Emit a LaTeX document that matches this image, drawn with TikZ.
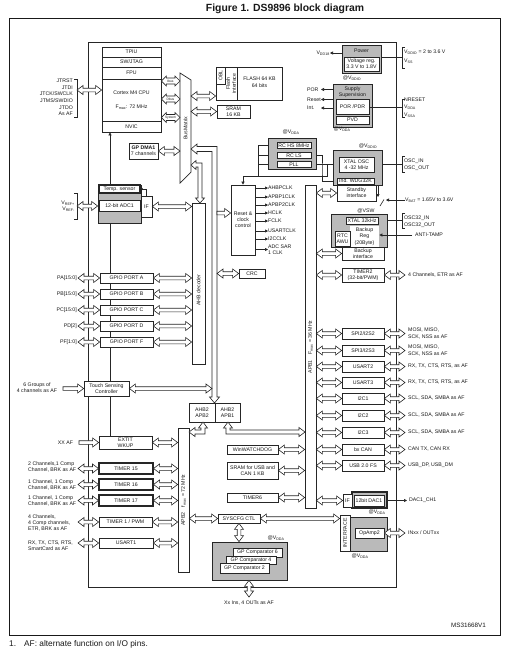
\documentclass[tikz,border=0pt]{standalone}
\usepackage{fontspec}
\setmainfont{Liberation Sans}
\usetikzlibrary{calc,arrows.meta}
\pgfdeclarelayer{back}\pgfdeclarelayer{bg}
\pgfsetlayers{back,bg,main}
\def\BSw{1.8pt}\def\BSh{4.5pt}\def\BSl{6pt}
% box by corners: [style]{name}{x1}{y1}{x2}{y2}{text}
\newcommand\bx[7][]{%
 \pgfmathsetmacro\bxcx{(#3+#5)/2}\pgfmathsetmacro\bxcy{(#4+#6)/2}%
 \pgfmathsetlengthmacro\bxw{(#5-#3)*1pt}\pgfmathsetlengthmacro\bxh{(#6-#4)*1pt}%
 \node[box,#1,minimum width=\bxw,minimum height=\bxh] (#2) at (\bxcx,\bxcy) {#7};}
% hollow double arrow, horizontal: from x of #1 to x of #2 at y of #3
\newcommand\hbus[3]{\draw[busa] let \p1=#1, \p2=#2, \p3=#3 in
 (\x1,\y3) -- ({\x1+\BSl},{\y3+\BSh}) -- ({\x1+\BSl},{\y3+\BSw}) -- ({\x2-\BSl},{\y3+\BSw})
 -- ({\x2-\BSl},{\y3+\BSh}) -- (\x2,\y3) -- ({\x2-\BSl},{\y3-\BSh}) -- ({\x2-\BSl},{\y3-\BSw})
 -- ({\x1+\BSl},{\y3-\BSw}) -- ({\x1+\BSl},{\y3-\BSh}) -- cycle;}
% single headed, head at #2
\newcommand\hbusr[3]{\draw[busa] let \p1=#1, \p2=#2, \p3=#3 in
 (\x1,{\y3+\BSw}) -- ({\x2-\BSl},{\y3+\BSw}) -- ({\x2-\BSl},{\y3+\BSh}) -- (\x2,\y3)
 -- ({\x2-\BSl},{\y3-\BSh}) -- ({\x2-\BSl},{\y3-\BSw}) -- (\x1,{\y3-\BSw}) -- cycle;}
% vertical double: from y of #1 (top) to y of #2 (bottom) at x of #3
\newcommand\vbus[3]{\draw[busa] let \p1=#1, \p2=#2, \p3=#3 in
 (\x3,\y1) -- ({\x3+\BSh},{\y1-\BSl}) -- ({\x3+\BSw},{\y1-\BSl}) -- ({\x3+\BSw},{\y2+\BSl})
 -- ({\x3+\BSh},{\y2+\BSl}) -- (\x3,\y2) -- ({\x3-\BSh},{\y2+\BSl}) -- ({\x3-\BSw},{\y2+\BSl})
 -- ({\x3-\BSw},{\y1-\BSl}) -- ({\x3-\BSh},{\y1-\BSl}) -- cycle;}
\newcommand\rbrk[3]{\draw[ln] ({#1-3},#2) -- (#1,#2) -- (#1,#3) -- ({#1-3},#3);}
\newcommand\lbrk[3]{\draw[ln] ({#1+3},#2) -- (#1,#2) -- (#1,#3) -- ({#1+3},#3);}
\newcommand\apbper[5]{\bx{#1}{342}{#2}{384}{#3}{#4}%
 \hbus{(apb1.east)}{(#1.west)}{(#1)}\hbus{(#1.east)}{(rarr)}{(#1)}%
 \node[lbl] (#1l) at (408,{(#2+#3)/2}) {#5};}
\begin{document}
\begin{tikzpicture}[x=1pt,y=-1pt,
  every node/.style={font=\fontsize{5.2}{6.2}\selectfont, inner sep=0pt, align=center, text=black!90},
  box/.style={draw=black!85, fill=white, line width=0.7pt},
  gbox/.style={draw=black!85, fill=black!27, line width=0.7pt},
  thk/.style={line width=1.1pt},
  busa/.style={draw=black!85, fill=white, line width=0.6pt},
  ln/.style={draw=black!85, line width=0.6pt},
  arr/.style={ln, -{Triangle[length=3pt,width=3pt]}},
  lbl/.style={anchor=west, align=left},
  lblr/.style={anchor=east, align=right}]
\useasboundingbox (0,0) rectangle (514,649);
\begin{pgfonlayer}{back}
\fill[white] (0,0) rectangle (514,649);
\draw[line width=0.8pt, black!90] (9,18) rectangle (500,635);
\draw[ln, line width=0.7pt] (88,42) rectangle (396,587);
\end{pgfonlayer}

\node[font=\bfseries\fontsize{10.4}{12}\selectfont] (title) at (285,9) {Figure 1. DS9896 block diagram};

% ---------- CPU ----------
\bx{tpiu}{102}{47}{161}{57}{TPIU}
\bx{swj}{102}{57}{161}{67}{SW/JTAG}
\bx{fpu}{102}{67}{161}{79}{FPU}
\bx{cpu}{102}{79}{161}{121}{Cortex M4 CPU\\[7.8pt]F\textsubscript{max}: 72 MHz}
\bx{nvic}{102}{121}{161}{132}{NVIC}
\node[lblr, font=\fontsize{5.2}{6.6}\selectfont] (jtag) at (73,97.5) {JTRST\\JTDI\\JTCK/SWCLK\\JTMS/SWDIO\\JTDO\\As AF};
\rbrk{77}{79}{117}
\coordinate (jb) at (77,90);
\hbus{(jb)}{(cpu.west)}{(jb)}

% bus matrix
\draw[box] (180,73) -- (191,80) -- (191,172) -- (180,183) -- cycle;
\node[rotate=90] (bml) at (185.5,128) {BusMatrix};
\coordinate (bmL) at (180,128);
\coordinate (bmR) at (191,128);
{\def\BSw{3pt}\def\BSh{5pt}\def\BSl{5pt}
\hbus{(cpu.east)}{(bmL)}{(0,81)}
\hbus{(cpu.east)}{(bmL)}{(0,99)}
\hbus{(cpu.east)}{(bmL)}{(0,117.5)}}
\node[font=\fontsize{3.3}{4}\selectfont] (ibus) at (170.5,81) {Ibus};
\node[font=\fontsize{3.3}{4}\selectfont] (dbus) at (170.5,99) {Dbus};
\node[font=\fontsize{3.3}{4}\selectfont] (sbus) at (170.5,117.5) {System};

% flash & sram
\bx{flash}{216}{67}{282}{100}{}
\draw[ln] (237,67) -- (237,100);
\bx{obl}{216}{67}{225}{84}{}
\node[rotate=90] (obll) at (obl) {OBL};
\node[rotate=90] (fif) at (231,83.5) {Flash\\interface};
\node (fl) at (259.5,82.5) {FLASH 64 KB\\[0.8pt]64 bits};
\hbus{(bmR)}{(flash.west)}{(0,96)}
\bx{sram}{217}{105}{250}{118}{SRAM\\16 KB}
\hbus{(bmR)}{(sram.west)}{(sram)}

% DMA
\bx{dma}{129}{143}{158}{159}{\textbf{GP DMA1}\\7 channels}
\hbus{(dma.east)}{(bmL)}{(dma)}

% ADC
\bx[gbox]{adcg}{98}{185}{141}{223}{}
\bx[thk]{temp}{99}{185}{140}{193}{Temp. sensor}
\bx{adc}{99}{200}{140}{211}{12-bit ADC1}
\bx{adcif}{141}{196}{152}{217}{IF}
\draw[ln, -{Triangle[length=2pt,width=2pt]}] (adcif.north) |- (temp.east);
\node[lblr] (vref) at (75,206) {V\textsubscript{REF+}\\V\textsubscript{REF-}};
\rbrk{77}{193}{219}
\coordinate (vb) at (77,206);
\hbus{(vb)}{(adcg.west)}{(vb)}

% AHB decoder
\bx{ahbd}{192}{203}{205}{364}{}
\node[rotate=90] (ahbdl) at (198.5,290) {AHB decoder};
\hbus{(adcif.east)}{(ahbd.west)}{(adcif)}

% GPIO
\bx{gpa}{100}{273}{153}{283}{GPIO PORT A}
\bx{gpb}{100}{289}{153}{299}{GPIO PORT B}
\bx{gpc}{100}{305}{153}{315}{GPIO PORT C}
\bx{gpd}{100}{321}{153}{331}{GPIO PORT D}
\bx{gpf}{100}{337}{153}{347}{GPIO PORT F}
\node[lblr] (pa) at (77,278) {PA[15:0]};
\node[lblr] (pb) at (77,294) {PB[15:0]};
\node[lblr] (pc) at (77,310) {PC[15:0]};
\node[lblr] (pd) at (77,326) {PD[2]};
\node[lblr] (pf) at (77,342) {PF[1:0]};
\coordinate (gl) at (78,0);
\hbus{(gl)}{(gpa.west)}{(gpa)}
\hbus{(gl)}{(gpb.west)}{(gpb)}
\hbus{(gl)}{(gpc.west)}{(gpc)}
\hbus{(gl)}{(gpd.west)}{(gpd)}
\hbus{(gl)}{(gpf.west)}{(gpf)}
\hbus{(gpa.east)}{(ahbd.west)}{(gpa)}
\hbus{(gpb.east)}{(ahbd.west)}{(gpb)}
\hbus{(gpc.east)}{(ahbd.west)}{(gpc)}
\hbus{(gpd.east)}{(ahbd.west)}{(gpd)}
\hbus{(gpf.east)}{(ahbd.west)}{(gpf)}

% touch sensing
\bx{tsc}{84}{381}{129}{396}{Touch Sensing\\Controller}
\node (tscl) at (37,388) {6 Groups of\\4 channels as AF};
\coordinate (tsa) at (63,388);
\hbusr{(tsa)}{(tsc.west)}{(tsc)}

% main AHB bus from bus matrix
\draw[busa] (191,149) -- (197,144) -- (197,146.5) -- (217,146.5) -- (217,397) -- (219.5,397) -- (214.5,403) -- (209.5,397) -- (212,397) -- (212,151.5) -- (197,151.5) -- (197,154) -- cycle;
\coordinate (mbusL) at (212,300);
\coordinate (mbusR) at (217,300);
\hbus{(tsc.east)}{(mbusL)}{(tsc)}
% bus matrix to AHB decoder
\draw[busa] (191,165) -- (196,160.5) -- (196,163) -- (202,163) -- (202,198) -- (204.5,198) -- (200,203) -- (195.5,198) -- (198,198) -- (198,167) -- (196,167) -- (196,169.5) -- cycle;

% reset & clock control
\bx{rcc}{231}{185}{255}{255}{Reset \&\\clock\\control}
\hbusr{(mbusR)}{(rcc.west)}{(0,213)}
\foreach \y/\t in {188/AHBPCLK,197/APBP1CLK,205/APBP2CLK,213/HCLK,221/FCLK,231/USARTCLK,239/I2CCLK}{
  \node[lbl] (ck\t) at (268,\y) {\t};
  \draw[arr] (rcc.east |- ck\t) -- (ck\t.west);}
\node[lbl] (ckadc) at (268,249.5) {ADC SAR\\1 CLK};
\draw[arr] (rcc.east |- ckadc) -- (ckadc.west);

% CRC
\bx{crc}{239}{269}{265}{278}{CRC}
\hbus{(mbusR)}{(crc.west)}{(crc)}

% clock sources
\bx[gbox]{rcg}{268}{138}{316}{169}{}
\bx[line width=0.9pt]{rchs}{277}{142}{311}{148.5}{RC HS 8MHz}
\bx[line width=0.9pt]{rcls}{277}{152}{311}{158.5}{RC LS}
\bx[line width=0.9pt]{pll}{277}{161}{311}{167.5}{PLL}
\node (vdda2) at (291,132.5) {@V\textsubscript{DDA}};

% XTAL
\bx[gbox]{xtg}{333}{150}{382}{185}{}
\bx[line width=0.9pt]{xtal}{339}{157}{374}{172}{XTAL OSC\\4 -32 MHz}
\bx{wdg}{337}{178}{374}{184}{Ind. WDG32K}
\node (vddio2) at (368,146.5) {@V\textsubscript{DDIO}};
\bx{stby}{337}{185}{376}{201}{Standby\\interface}
\coordinate (oscb) at (402,164.5);
\lbrk{402}{156}{172}
\node[lbl] (osc) at (404,164.5) {OSC\_IN\\[0.6pt]OSC\_OUT};

% VBAT & switch
\node[lbl] (vbat) at (405,200) {V\textsubscript{BAT} = 1.65V to 3.6V};
\coordinate (sw) at (386,200);
\draw[arr] (vbat.west) -- (sw);
\coordinate (swt) at (378,185);
\coordinate (swb) at (378,197);
\draw[arr] (swt) -- (swb);
\coordinate (sw1) at (380,206);
\coordinate (sw2) at (384,199.5);
\draw[ln] (sw1) -- (sw2);

% backup domain
\node (vsw) at (366,210.5) {@VSW};
\bx[gbox]{bkg}{331}{214}{387}{247}{}
\bx[line width=0.9pt]{x32}{346}{217}{378}{224}{XTAL 32kHz}
\bx[draw=none]{bkr}{350}{226}{379}{247}{Backup\\Reg\\(20Byte)}
\bx{rtc}{335}{231}{350}{246}{RTC\\AWU}
\bx{bkif}{342}{247}{384}{260}{Backup\\interface}
\node[lbl] (tamp) at (415,235) {ANTI-TAMP};
\coordinate (tampa) at (412,235);
\draw[arr] (tampa) -- (bkr.east |- tampa);
\lbrk{402}{213}{228}
\node[lbl] (osc32) at (404,222) {OSC32\_IN\\[0.8pt]OSC32\_OUT};

% power
\bx[gbox]{pwr}{342}{45}{381}{73}{}
\node (pwrl) at (361.5,50.5) {Power};
\bx{vreg}{344}{57}{379}{71}{Voltage reg.\\3.3 V to 1.8V}
\node (vddio1) at (352,78) {@V\textsubscript{DDIO}};
\node[lblr] (vdd18) at (330,53) {V\textsubscript{DD18}};
\draw[arr] (pwr.west |- vdd18) -- (vdd18.east);
\coordinate (pwb) at (402,57);
\draw[ln] (pwr.east |- pwb) -- (pwb);
\lbrk{402}{47}{68}
\node[lbl] (pwrv) at (404,56.5) {V\textsubscript{DDIO} = 2 to 3.6 V\\[2.8pt]V\textsubscript{SS}};

% supply supervision
\bx[gbox]{sup}{333}{84}{372}{127}{}
\node (supl) at (352.5,92) {Supply\\Supervision};
\bx{por}{336}{99}{369}{114}{POR /PDR}
\bx{pvd}{336}{116}{369}{124}{PVD}
\node[lbl] (porl) at (307,89.5) {POR};
\node[lbl] (rstl) at (307,99.5) {Reset};
\node[lbl] (intl) at (307,108) {Int.};
\coordinate (pora) at (321,89.5);
\coordinate (rsta) at (321,99.5);
\coordinate (inta) at (321,108);
\draw[arr] (sup.west |- pora) -- (pora);
\draw[arr] (sup.west |- rsta) -- (rsta);
\draw[arr] (sup.west |- inta) -- (inta);
\coordinate (porb) at (402,107);
\draw[ln] (por.east |- porb) -- (porb);
\lbrk{402}{99}{117}
\node[lbl, font=\fontsize{5.2}{7.4}\selectfont] (nrst) at (404,107.5) {NRESET\\V\textsubscript{DDA}\\V\textsubscript{SSA}};
\node (vdda1) at (342,129.5) {@V\textsubscript{DDA}};

% APB1 bus and peripherals
\bx{apb1}{305}{185}{316}{508}{}
\node[rotate=90] (apb1l) at (310.5,347) {APB1\quad F\textsubscript{max} = 36 MHz};
\coordinate (rarr) at (405,0);
\hbus{(apb1.east)}{(stby.west)}{(stby)}
\hbus{(apb1.east)}{(bkif.west)}{(bkif)}
\apbper{tim2}{268}{282}{TIMER2\\(32-bit/PWM)}{4 Channels, ETR as AF}
\apbper{spi2}{328}{339}{SPI2/I2S2}{MOSI, MISO,\\SCK, NSS as AF}
\apbper{spi3}{345}{356}{SPI3/I2S3}{MOSI, MISO,\\SCK, NSS as AF}
\apbper{usart2}{361}{372}{USART2}{RX, TX, CTS, RTS, as AF}
\apbper{usart3}{377}{388}{USART3}{RX, TX, CTS, RTS, as AF}
\apbper{i2c1}{393}{404}{I2C1}{SCL, SDA, SMBA as AF}
\apbper{i2c2}{410}{421}{I2C2}{SCL, SDA, SMBA as AF}
\apbper{i2c3}{427}{438}{I2C3}{SCL, SDA, SMBA as AF}
\apbper{can}{444}{455}{bx CAN}{CAN TX, CAN RX}
\apbper{usb}{460}{471}{USB 2.0 FS}{USB\_DP, USB\_DM}

% DAC
\bx[gbox,thk]{dacg}{352}{492}{387}{508}{}
\bx{dac}{354}{495}{384}{506}{12bit DAC1}
\bx{dacif}{343}{494}{352}{507}{IF}
\hbus{(apb1.east)}{(dacif.west)}{(dacif)}
\coordinate (daco) at (407,500.5);
\draw[arr] (dacg.east |- daco) -- (daco);
\node[lbl] (dacl) at (409,500.5) {DAC1\_CH1};

% EXTI, timers, APB2
\bx{apb2}{178}{428}{189}{572}{}
\node[rotate=90] (apb2l) at (183.5,500) {APB2\quad f\textsubscript{max} = 72 MHz};
\bx{exti}{99}{436}{152}{449}{EXTIT\\WKUP}
\node (xxaf) at (65.5,443) {XX AF};
\coordinate (xxa) at (79,443);
\hbusr{(xxa)}{(exti.west)}{(exti)}
\hbus{(exti.east)}{(apb2.west)}{(exti)}
\bx[thk]{t15}{99}{463}{153}{474}{TIMER 15}
\bx[thk]{t16}{99}{479}{153}{490}{TIMER 16}
\bx[thk]{t17}{99}{495}{153}{506}{TIMER 17}
\bx{t1}{99}{517}{152}{527}{TIMER 1 / PWM}
\bx{us1}{99}{538}{153}{548}{USART1}
\node[lbl] (t15l) at (28,467) {2 Channels,1 Comp\\Channel, BRK as AF};
\node[lbl] (t16l) at (28,485) {1 Channel, 1 Comp\\Channel, BRK as AF};
\node[lbl] (t17l) at (28,501) {1 Channel, 1 Comp\\Channel, BRK as AF};
\node[lbl] (t1l) at (28,523) {4 Channels,\\4 Comp channels,\\ETR, BRK as AF};
\node[lbl] (us1l) at (28,546) {RX, TX, CTS, RTS,\\SmartCard as AF};
\coordinate (tla) at (78,0);
\foreach \tm in {t15,t16,t17,t1,us1}{
  \hbus{(tla)}{(\tm.west)}{(\tm)}
  \hbus{(\tm.east)}{(apb2.west)}{(\tm)}}

% bridges
\bx{br2}{189}{403}{215}{422}{AHB2\\APB2}
\bx{br1}{215}{403}{240}{422}{AHB2\\APB1}
\draw[busa] (203,422) -- (207.5,428) -- (205,428) -- (205,434) -- (195,434) -- (195,436.5) -- (189,432) -- (195,427.5) -- (195,430) -- (201,430) -- (201,428) -- (198.5,428) -- cycle;
\draw[busa] (228,422) -- (232.5,428) -- (230,428) -- (230,430) -- (299,430) -- (299,427.5) -- (305,432) -- (299,436.5) -- (299,434) -- (226,434) -- (226,428) -- (223.5,428) -- cycle;

% APB1 left side blocks
\bx{wwdg}{227}{445}{278}{454}{WinWATCHDOG}
\bx{usram}{227}{462}{278}{479}{SRAM for USB and\\CAN 1 KB}
\bx{tim6}{227}{493}{278}{502}{TIMER6}
\hbus{(wwdg.east)}{(apb1.west)}{(wwdg)}
\hbus{(usram.east)}{(apb1.west)}{(usram)}
\hbus{(tim6.east)}{(apb1.west)}{(tim6)}

% SYSCFG, comparators, opamp
\bx{syscfg}{218}{514}{260}{523}{SYSCFG CTL}
\bx{iface}{340}{515}{350}{551}{}
\node[rotate=90] (ifacel) at (iface) {INTERFACE};
\bx[gbox]{opg}{350}{517}{387}{551}{}
\bx{op2}{355}{528}{384}{538}{OpAmp2}
\node (vdda4) at (377,512) {@V\textsubscript{DDA}};
\node (vdda5) at (360,556) {@V\textsubscript{DDA}};
\hbus{(op2.east)}{(rarr)}{(op2)}
\node[lbl] (op2l) at (408,533) {INxx / OUTxx};
\hbus{(apb2.east)}{(syscfg.west)}{(syscfg)}
\hbus{(syscfg.east)}{(iface.west)}{(syscfg)}
\bx[gbox]{cmpg}{212}{542}{287}{580}{}
\node (vdda3) at (276,538) {@V\textsubscript{DDA}};
\bx{c6}{233}{548}{282}{557}{GP Comparator 6}
\bx{c4}{226}{556}{276}{564}{GP Comparator 4}
\bx{c2}{220}{563}{269}{573}{GP Comparator 2}
\vbus{(syscfg.south)}{(cmpg.north)}{(syscfg.south)}
\coordinate (cmpo) at (249,597);
\vbus{(cmpg.south)}{(cmpo)}{(cmpo)}
\node (cmpl) at (249,603.5) {Xx Ins, 4 OUTs as AF};

% lines drawn beneath the blocks
\coordinate (ckb) at (258,176);
\coordinate (ckx) at (327,164);
\coordinate (ckw) at (322,170);
\coordinate (irq) at (110,0);
\begin{pgfonlayer}{bg}
\draw[arr] (irq |- exti.north) -- (irq |- nvic.south);
\draw[ln] (rchs.west) -| (ckb);
\draw[ln] (rcls.west) -- (rcls.west -| ckb);
\draw[ln] (pll.west) -- (pll.west -| ckb);
\draw[ln] (ckb) -| (ckx);
\draw[ln] (pll.east) -- (xtal.west |- pll.east);
\draw[arr] (ckb) -| (rcc.north);
\draw[arr] (rcls.east) -| (ckw) |- (wdg.west);
\draw[ln] (xtal.east) -- (xtal.east -| oscb);
\draw[ln] (x32.east) -- (x32.east -| oscb);
\end{pgfonlayer}

% footer
\node[font=\fontsize{6.3}{7}\selectfont] (ms) at (468.5,625) {MS31668V1};
\node[anchor=west, font=\fontsize{8.3}{10}\selectfont] (fn1) at (9,644) {1.};
\node[anchor=west, font=\fontsize{8.3}{10}\selectfont] (fn) at (24,644) {AF: alternate function on I/O pins.};
\end{tikzpicture}
\end{document}
